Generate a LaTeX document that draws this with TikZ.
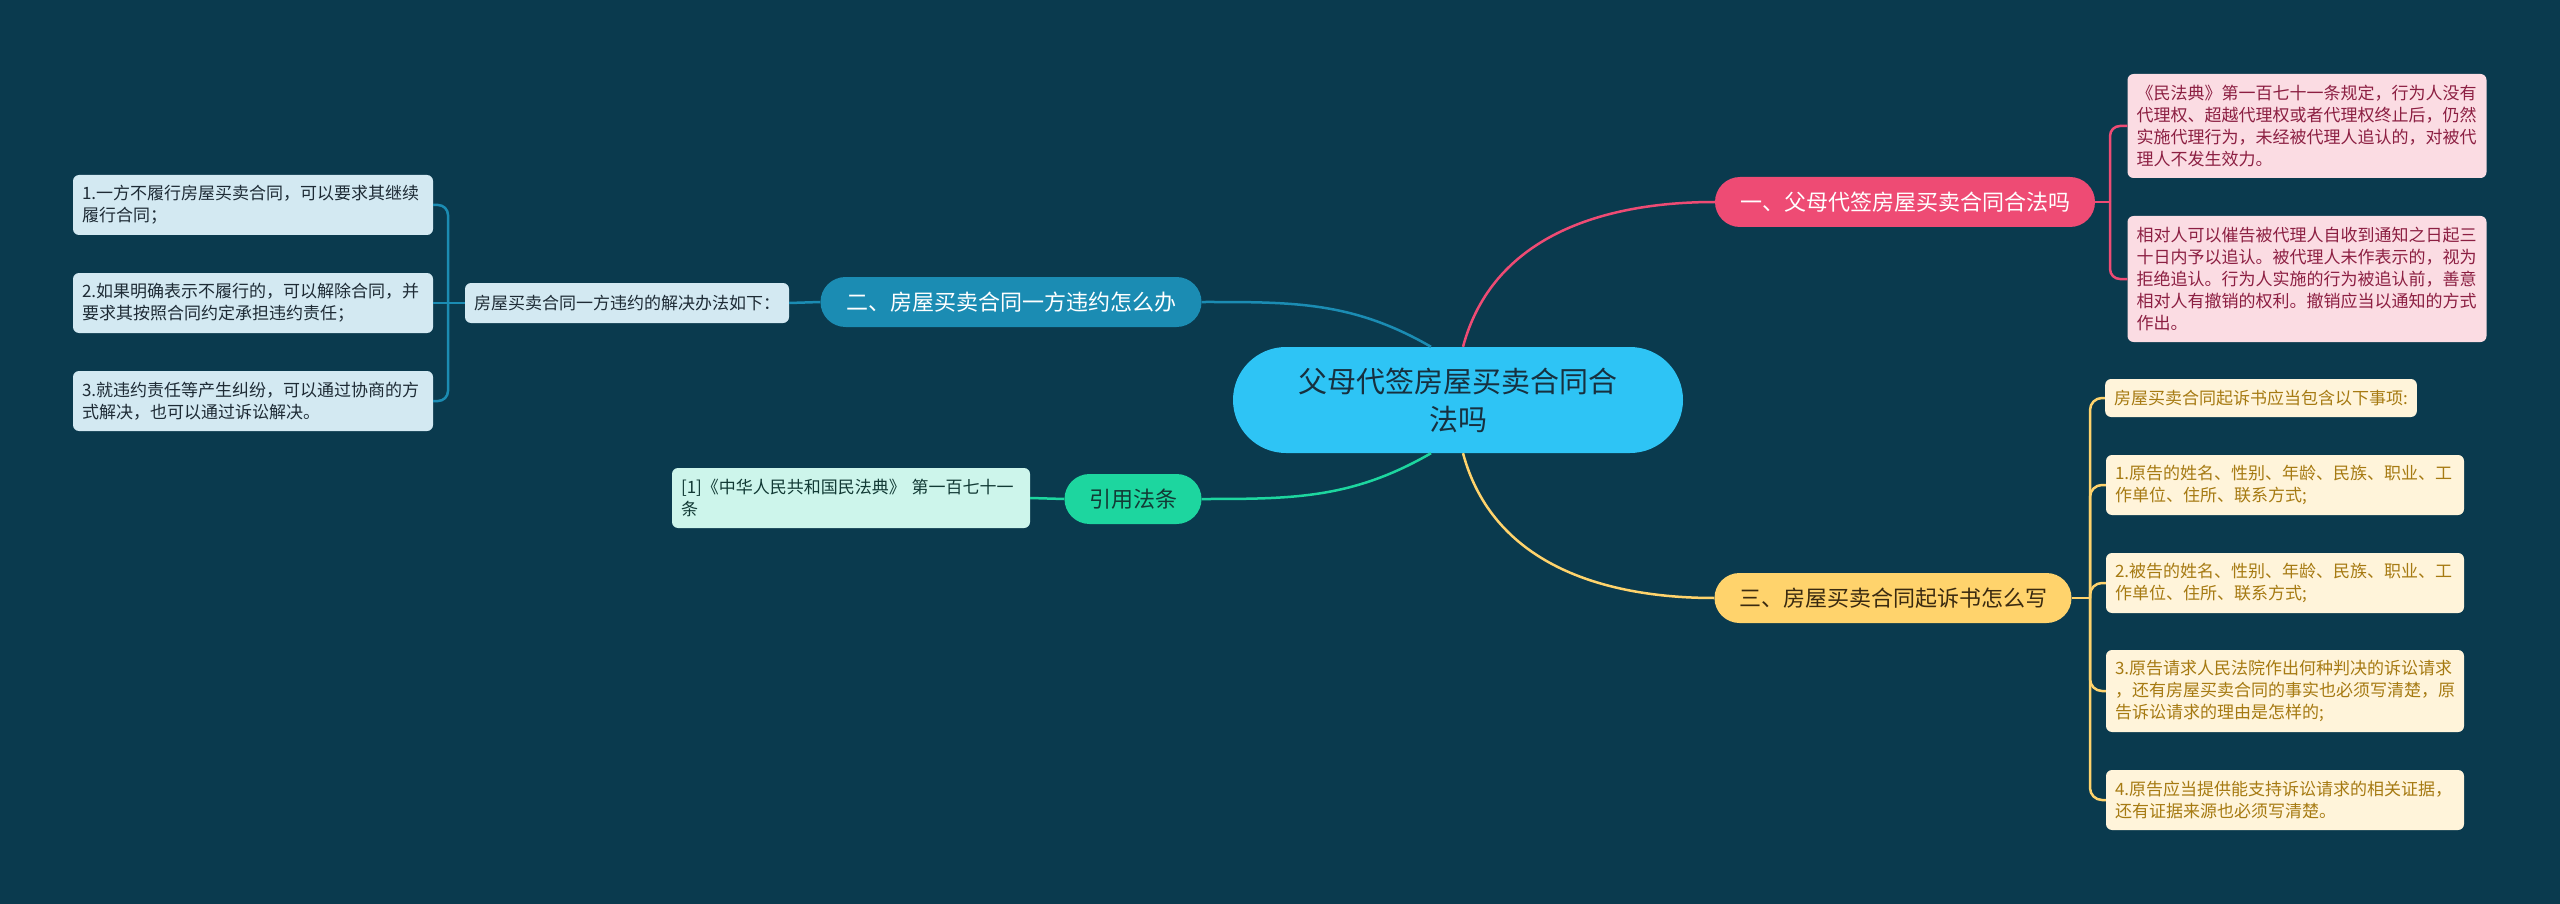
\documentclass[tikz,border=0pt]{standalone}
\usepackage{fontspec}
\newfontfamily\cjk{Noto Sans CJK SC}
\usepackage{xcolor}
\usepackage{tikz}
\usetikzlibrary{calc}
\definecolor{bgnavy}{HTML}{0A3A4E}
\definecolor{rootcyan}{HTML}{2EC4F5}
\definecolor{rootink}{HTML}{17303F}
\definecolor{pinkmain}{HTML}{EE4B74}
\definecolor{pinkbox}{HTML}{FBDCE3}
\definecolor{pinkink}{HTML}{8C1F42}
\definecolor{bluemain}{HTML}{1B8CB3}
\definecolor{bluebox}{HTML}{D3E9F2}
\definecolor{blueink}{HTML}{1E2B35}
\definecolor{yelmain}{HTML}{FFD36C}
\definecolor{yelbox}{HTML}{FFF4DA}
\definecolor{yelink}{HTML}{A67A12}
\definecolor{yeldark}{HTML}{3A2A10}
\definecolor{grnmain}{HTML}{1DD69F}
\definecolor{grnbox}{HTML}{CDF5EB}
\definecolor{grnink}{HTML}{123A35}

\begin{document}
\begin{tikzpicture}[x=1pt, y=-1pt,
    root/.style={fill=rootcyan, text=rootink, rounded corners=53pt,
        minimum width=450pt, minimum height=106pt, align=center,
        font=\cjk\fontsize{29}{38}\selectfont},
    branch/.style={rounded corners=25pt, minimum height=50pt, inner xsep=20pt,
        font=\cjk\fontsize{22}{26}\selectfont},
    leaf/.style={rounded corners=6pt, inner xsep=9pt, inner ysep=6pt, align=left,
        font=\cjk\fontsize{17}{22}\selectfont},
    lnpink/.style={draw=pinkmain, line width=2.5pt},
    lnblue/.style={draw=bluemain, line width=2.5pt},
    lnyel/.style={draw=yelmain, line width=2.5pt},
    lngrn/.style={draw=grnmain, line width=2.5pt}]
    % --- Dark background ---
    \fill[bgnavy] (0,0) rectangle (2560,904);
    \useasboundingbox (0,0) rectangle (2560,904);

    % --- Root and main topics ---
    \node[root] (ctr) at (1458,400) {父母代签房屋买卖合同合\\法吗};
    \node[branch, fill=pinkmain, text=white, minimum width=380pt] (n1) at (1905,202)
        {一、父母代签房屋买卖合同合法吗};
    \node[branch, fill=bluemain, text=white, minimum width=381pt] (n2) at (1011,302)
        {二、房屋买卖合同一方违约怎么办};
    \node[branch, fill=yelmain, text=yeldark, minimum width=357pt] (n3) at (1893,598)
        {三、房屋买卖合同起诉书怎么写};
    \node[branch, fill=grnmain, text=grnink, minimum width=137pt] (ref) at (1133,499)
        {引用法条};

    \draw[lnpink] ($(ctr.north)+(5,0)$) to[out=75, in=180] (n1.west);
    \draw[lnblue] (n2.east) to[out=0, in=150] ($(ctr.north)+(-27,0)$);
    \draw[lngrn] (ref.east) to[out=0, in=-150] ($(ctr.south)+(-27,0)$);
    \draw[lnyel] ($(ctr.south)+(5,0)$) to[out=-75, in=180] (n3.west);

    % --- Topic one: pink notes ---
    \node[leaf, fill=pinkbox, text=pinkink, text width=341pt, minimum height=104pt] (p1) at (2307,126)
        {《民法典》第一百七十一条规定，行为人没有\\代理权、超越代理权或者代理权终止后，仍然\\实施代理行为，未经被代理人追认的，对被代\\理人不发生效力。};
    \node[leaf, fill=pinkbox, text=pinkink, text width=341pt, minimum height=126pt] (p2) at (2307,279)
        {相对人可以催告被代理人自收到通知之日起三\\十日内予以追认。被代理人未作表示的，视为\\拒绝追认。行为人实施的行为被追认前，善意\\相对人有撤销的权利。撤销应当以通知的方式\\作出。};
    \coordinate (pj) at (2110,202);
    \draw[lnpink] (n1.east) -- (pj);
    \draw[lnpink, rounded corners=10pt] (pj) |- (p1.west);
    \draw[lnpink, rounded corners=10pt] (pj) |- (p2.west);

    % --- Topic two: blue notes ---
    \node[leaf, fill=bluebox, text=blueink, minimum height=40pt] (bsub) at (627,303)
        {房屋买卖合同一方违约的解决办法如下：};
    \node[leaf, fill=bluebox, text=blueink, text width=342pt, minimum height=60pt] (b1) at (253,205)
        {1.一方不履行房屋买卖合同，可以要求其继续\\履行合同；};
    \node[leaf, fill=bluebox, text=blueink, text width=342pt, minimum height=60pt] (b2) at (253,303)
        {2.如果明确表示不履行的，可以解除合同，并\\要求其按照合同约定承担违约责任；};
    \node[leaf, fill=bluebox, text=blueink, text width=342pt, minimum height=60pt] (b3) at (253,401)
        {3.就违约责任等产生纠纷，可以通过协商的方\\式解决，也可以通过诉讼解决。};
    \coordinate (bj) at (448,303);
    \draw[lnblue] (n2.west) -- (bsub.east);
    \draw[lnblue] (bsub.west) -- (bj) -- (b2.east);
    \draw[lnblue, rounded corners=10pt] (bj) |- (b1.east);
    \draw[lnblue, rounded corners=10pt] (bj) |- (b3.east);

    % --- Topic three: yellow notes ---
    \node[leaf, fill=yelbox, text=yelink, minimum height=38pt] (y0) at (2261,398)
        {房屋买卖合同起诉书应当包含以下事项:};
    \node[leaf, fill=yelbox, text=yelink, text width=340pt, minimum height=60pt] (y1) at (2285,485)
        {1.原告的姓名、性别、年龄、民族、职业、工\\作单位、住所、联系方式;};
    \node[leaf, fill=yelbox, text=yelink, text width=340pt, minimum height=60pt] (y2) at (2285,583)
        {2.被告的姓名、性别、年龄、民族、职业、工\\作单位、住所、联系方式;};
    \node[leaf, fill=yelbox, text=yelink, text width=340pt, minimum height=82pt] (y3) at (2285,691)
        {3.原告请求人民法院作出何种判决的诉讼请求\\，还有房屋买卖合同的事实也必须写清楚，原\\告诉讼请求的理由是怎样的;};
    \node[leaf, fill=yelbox, text=yelink, text width=340pt, minimum height=60pt] (y4) at (2285,800)
        {4.原告应当提供能支持诉讼请求的相关证据，\\还有证据来源也必须写清楚。};
    \coordinate (yj) at (2090,598);
    \draw[lnyel] (n3.east) -- (yj);
    \foreach \k in {y0,y1,y2,y3,y4}
        \draw[lnyel, rounded corners=12pt] (yj) |- (\k.west);

    % --- Citation ---
    \node[leaf, fill=grnbox, text=grnink, text width=340pt, minimum height=60pt] (cite) at (851,498)
        {[1]《中华人民共和国民法典》 第一百七十一\\条};
    \draw[lngrn] (cite.east) -- (ref.west);
\end{tikzpicture}
\end{document}
